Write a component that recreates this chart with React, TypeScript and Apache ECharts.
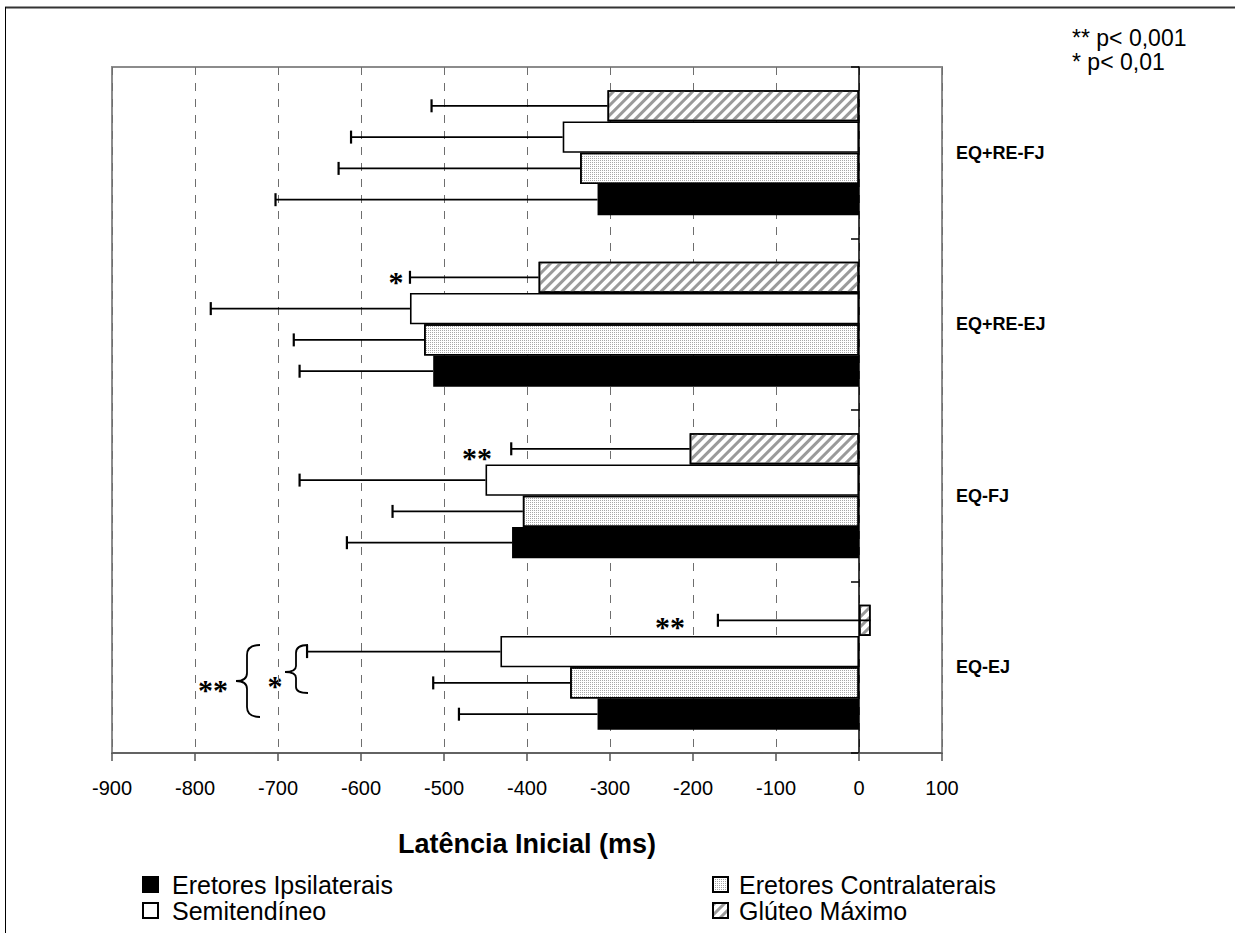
import React, { useEffect, useRef } from "react";
import * as echarts from "echarts";

// ---------- data ----------
const categories = ["EQ-EJ", "EQ-FJ", "EQ+RE-EJ", "EQ+RE-FJ"];
const seriesNames = ["Eretores Ipsilaterais", "Eretores Contralaterais", "Semitendíneo", "Glúteo Máximo"];

const ipsilaterais = [-315, -418, -513, -315];
const ipsilateraisErr = [167, 199, 161, 388];
const contralaterais = [-348, -405, -524, -336];
const contralateraisErr = [165, 157, 157, 291];
const semitendineo = [-432, -450, -541, -357];
const semitendineoErr = [233, 224, 240, 255];
const gluteo = [14, -204, -386, -303];
const gluteoErr = [184, 215, 155, 212];

const xTicks = { min: -900, max: 100, interval: 100 };

const FONT = "'Liberation Sans', Arial, sans-serif";
const SERIF = "'Liberation Serif', 'Times New Roman', serif";
const GAP = 0.27;

const bigBrace =
  "M260 645 C251 645 247 648 247 655 L247 673 C247 678 243 681 236 681 C243 681 247 684 247 689 L247 707 C247 714 251 717 260 717";
const smallBrace =
  "M308 645 C300 645 296 647 296 653 L296 666 C296 670 292 672 285 672 C292 672 296 674 296 678 L296 687 C296 691 300 693 308 693";

let registered = false;
function registerShapes() {
  if (registered) return;
  registered = true;
  echarts.graphic.registerShape("braceBig", echarts.graphic.extendPath(bigBrace, {}) as any);
  echarts.graphic.registerShape("braceSmall", echarts.graphic.extendPath(smallBrace, {}) as any);
}

const dotDecal = {
  symbol: "rect",
  symbolSize: 1,
  dashArrayX: [1, 1],
  dashArrayY: [1, 1],
  color: "#a8a8a8",
};
const hatchDecal = {
  symbol: "rect",
  symbolSize: 1,
  dashArrayX: [1, 0],
  dashArrayY: [3, 3.5],
  rotation: -Math.PI / 4,
  color: "#9a9a9a",
};

export default function App() {
  const ref = useRef<HTMLDivElement>(null);
  useEffect(() => {
    if (!ref.current) return;
    registerShapes();
    const chart = echarts.init(ref.current, undefined, { renderer: "svg" });

    // slot: 0 = top within category band
    const defs = [
      { name: seriesNames[3], vals: gluteo, errs: gluteoErr, color: "#fff", decal: hatchDecal, slot: 0 },
      { name: seriesNames[2], vals: semitendineo, errs: semitendineoErr, color: "#fff", decal: null, slot: 1 },
      { name: seriesNames[1], vals: contralaterais, errs: contralateraisErr, color: "#fff", decal: dotDecal, slot: 2 },
      { name: seriesNames[0], vals: ipsilaterais, errs: ipsilateraisErr, color: "#000", decal: null, slot: 3 },
    ];

    const barSeries = defs.map((d) => ({
      type: "bar",
      name: d.name,
      data: d.vals,
      barGap: "0%",
      barCategoryGap: GAP * 100 + "%",
      itemStyle: {
        color: d.color,
        borderColor: "#000",
        borderWidth: 1.6,
        ...(d.decal ? { decal: d.decal } : {}),
      },
      emphasis: { disabled: true },
    }));

    const errSeries = defs.map((d) => ({
      type: "custom",
      name: d.name + " err",
      z: 5,
      encode: { x: [0, 2], y: 1 },
      data: d.vals.map((v, i) => [v, i, v - d.errs[i]]),
      renderItem: (params: any, api: any) => {
        const cat = api.value(1);
        const p0 = api.coord([api.value(0), cat]);
        const p1 = api.coord([api.value(2), cat]);
        const band = api.size([0, 1])[1];
        const groupW = band * (1 - GAP);
        const barW = groupW / 4;
        const y = p0[1] - groupW / 2 + (d.slot + 0.5) * barW;
        return {
          type: "group",
          children: [
            { type: "line", shape: { x1: p0[0], y1: y, x2: p1[0], y2: y }, style: { stroke: "#000", lineWidth: 1.8 } },
            { type: "line", shape: { x1: p1[0], y1: y - 6.5, x2: p1[0], y2: y + 6.5 }, style: { stroke: "#000", lineWidth: 2.2 } },
          ],
        };
      },
    }));

    const legendItem = (name: string, left: number, top: number, pad: number) => ({
      data: [name],
      orient: "vertical",
      left,
      top,
      padding: 0,
      icon: "rect",
      itemWidth: 15,
      itemHeight: 15,
      selectedMode: false,
      textStyle: { fontSize: 25, fontFamily: FONT, color: "#000", padding: [0, 0, 0, pad] },
    });

    const star = (txt: string, x: number, y: number) => ({
      type: "text",
      x,
      y,
      style: { text: txt, font: `bold 30px ${SERIF}`, fill: "#000", align: "center", verticalAlign: "middle" },
    });

    chart.setOption({
      animation: false,
      backgroundColor: "#fff",
      grid: { left: 112, right: 293, top: 67, bottom: 180, show: true, borderColor: "#8c8c8c", borderWidth: 2, backgroundColor: "transparent" },
      xAxis: {
        type: "value",
        min: xTicks.min,
        max: xTicks.max,
        interval: xTicks.interval,
        name: "Latência Inicial (ms)",
        nameLocation: "middle",
        nameGap: 77,
        nameTextStyle: { fontSize: 27, fontWeight: "bold", fontFamily: FONT, color: "#000" },
        axisLine: { show: true, onZero: false, lineStyle: { color: "#555", width: 1.5 } },
        axisTick: { show: true, length: 8, lineStyle: { color: "#555", width: 1.5 } },
        axisLabel: { fontSize: 20, fontFamily: FONT, color: "#000", margin: 25 },
        splitLine: { show: true, lineStyle: { color: "#6e6e6e", type: [8, 8], width: 1 } },
      },
      yAxis: [
        {
          type: "category",
          data: categories,
          position: "left",
          axisLine: { show: true, onZero: true, lineStyle: { color: "#000", width: 1.5 } },
          axisTick: { show: true, length: 8, lineStyle: { color: "#000", width: 1.5 } },
          axisLabel: { show: false },
          splitLine: { show: false },
        },
        {
          type: "category",
          data: categories,
          position: "right",
          axisLine: { show: false },
          axisTick: { show: false },
          axisLabel: { show: true, margin: 14, fontSize: 18, fontWeight: "bold", fontFamily: FONT, color: "#000" },
          splitLine: { show: false },
        },
      ],
      legend: [
        legendItem(seriesNames[0], 142, 872, 9),
        legendItem(seriesNames[2], 142, 898, 9),
        legendItem(seriesNames[1], 712, 872, 6),
        legendItem(seriesNames[3], 712, 898, 6),
      ],
      graphic: [
        { type: "line", shape: { x1: 5, y1: 7.5, x2: 1235, y2: 7.5 }, style: { stroke: "#333", lineWidth: 2 } },
        { type: "line", shape: { x1: 5.5, y1: 7, x2: 5.5, y2: 933 }, style: { stroke: "#000", lineWidth: 1 } },
        { type: "text", x: 1072, y: 38, style: { text: "** p< 0,001", font: `23px ${FONT}`, fill: "#000", verticalAlign: "middle" } },
        { type: "text", x: 1072, y: 62, style: { text: "* p< 0,01", font: `23px ${FONT}`, fill: "#000", verticalAlign: "middle" } },
        star("*", 396, 281),
        star("**", 477, 457),
        star("**", 670, 626),
        star("**", 213, 689),
        star("*", 275, 685),
        { type: "braceBig", style: { stroke: "#000", fill: null, lineWidth: 1.8 } },
        { type: "braceSmall", style: { stroke: "#000", fill: null, lineWidth: 1.8 } },
      ],
      series: [...barSeries, ...errSeries],
    });
    return () => chart.dispose();
  }, []);
  return <div ref={ref} style={{ position: "absolute", left: 0, top: 0, width: 1235, height: 933 }} />;
}
